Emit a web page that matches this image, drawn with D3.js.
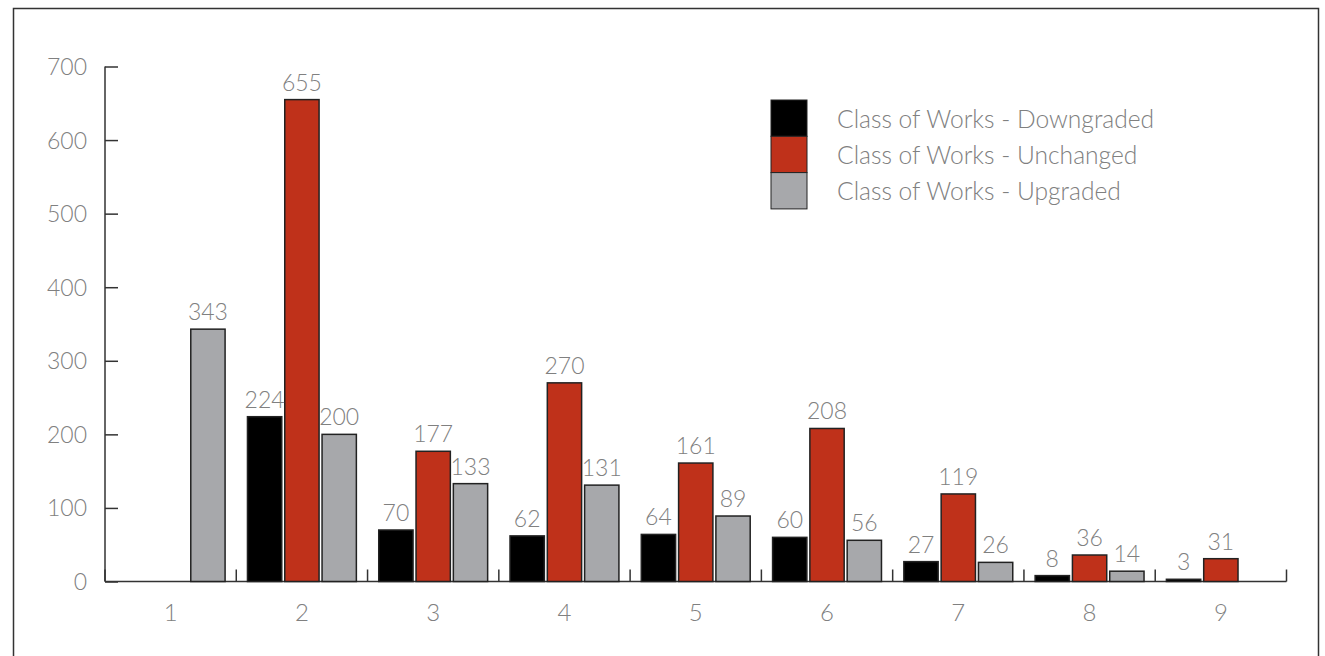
<!DOCTYPE html>
<html>
<head>
<meta charset="utf-8">
<script src="https://cdn.jsdelivr.net/npm/d3@7"></script>
<style>
  html, body { margin: 0; padding: 0; background: #fff; }
  svg { display: block; }
  text { font-family: "Lato", "Open Sans", "DejaVu Sans", sans-serif; font-weight: 300; fill: #808080; }
</style>
</head>
<body>
<svg id="chart" width="1325" height="656"></svg>
<script>
// Category labels along the x axis
const categories = ["1", "2", "3", "4", "5", "6", "7", "8", "9"];
// Series values (null = no bar in that category)
const downgraded = [null, 224, 70, 62, 64, 60, 27, 8, 3];
const unchanged  = [null, 655, 177, 270, 161, 208, 119, 36, 31];
const upgraded   = [343, 200, 133, 131, 89, 56, 26, 14, null];
const seriesNames = ["Class of Works - Downgraded", "Class of Works - Unchanged", "Class of Works - Upgraded"];
const seriesColors = ["#000000", "#bf311a", "#a7a8ab"];
const yTicks = [0, 100, 200, 300, 400, 500, 600, 700];

const seriesValues = [downgraded, unchanged, upgraded];

const svg = d3.select("#chart");

// outer frame
svg.append("rect")
  .attr("x", 13.5).attr("y", 8.5)
  .attr("width", 1305).attr("height", 660)
  .attr("fill", "none").attr("stroke", "#333").attr("stroke-width", 1.5);

const left = 105, right = 1286.5, baseY = 581.5, topY = 66.5;

const x = d3.scaleBand().domain(categories).range([left, right]).paddingInner(0).paddingOuter(0);
const x1 = d3.scaleBand().domain([0, 1, 2]).range([0, x.bandwidth()]).paddingInner(0.08).paddingOuter(0.3);
const y = d3.scaleLinear().domain([0, 700]).range([baseY, topY]);

// y axis
const yAxis = d3.axisLeft(y).tickValues(yTicks).tickSize(-13).tickPadding(18).tickFormat(d3.format("d"));
const gy = svg.append("g").attr("transform", `translate(${left},0)`).call(yAxis);
gy.select(".domain").attr("stroke", "#333").attr("stroke-width", 1.5).attr("d", `M0,${topY}V${baseY}`);
gy.selectAll(".tick line").attr("stroke", "#333").attr("stroke-width", 1.5);
gy.selectAll(".tick text").style("font-size", "23px").attr("fill", "#808080").attr("dy", "0.35em");

// x axis baseline with separator ticks between categories
const gx = svg.append("g");
gx.append("line").attr("x1", left).attr("x2", right).attr("y1", baseY).attr("y2", baseY)
  .attr("stroke", "#333").attr("stroke-width", 1.5);
const bounds = categories.map(c => x(c)).concat([right]);
gx.selectAll("line.sep").data(bounds).join("line").attr("class", "sep")
  .attr("x1", d => d).attr("x2", d => d).attr("y1", baseY).attr("y2", baseY - 12)
  .attr("stroke", "#333").attr("stroke-width", 1.5);
gx.selectAll("text.cat").data(categories).join("text").attr("class", "cat")
  .attr("x", d => x(d) + x.bandwidth() / 2).attr("y", 621)
  .attr("text-anchor", "middle").style("font-size", "24px").text(d => d);

// bars
const barData = [];
seriesValues.forEach((vals, si) => {
  vals.forEach((v, ci) => {
    if (v !== null) barData.push({ si, cat: categories[ci], v });
  });
});

svg.append("g").selectAll("rect").data(barData).join("rect")
  .attr("x", d => x(d.cat) + x1(d.si))
  .attr("y", d => y(d.v))
  .attr("width", x1.bandwidth())
  .attr("height", d => baseY - y(d.v))
  .attr("fill", d => seriesColors[d.si])
  .attr("stroke", "#222").attr("stroke-width", 1.5);

// value labels
svg.append("g").selectAll("text").data(barData).join("text")
  .attr("x", d => x(d.cat) + x1(d.si) + x1.bandwidth() / 2)
  .attr("y", d => y(d.v) - 9)
  .attr("text-anchor", "middle").style("font-size", "23px")
  .text(d => d.v);

// legend
const lg = svg.append("g").attr("transform", "translate(771,100)");
seriesNames.forEach((name, i) => {
  lg.append("rect").attr("x", 0).attr("y", i * 36.3).attr("width", 36).attr("height", 36.3)
    .attr("fill", seriesColors[i]).attr("stroke", "#222").attr("stroke-width", 1);
  lg.append("text").attr("x", 66).attr("y", i * 36.3 + 19).attr("dy", "0.35em")
    .style("font-size", "24.6px").text(name);
});
</script>
</body>
</html>
